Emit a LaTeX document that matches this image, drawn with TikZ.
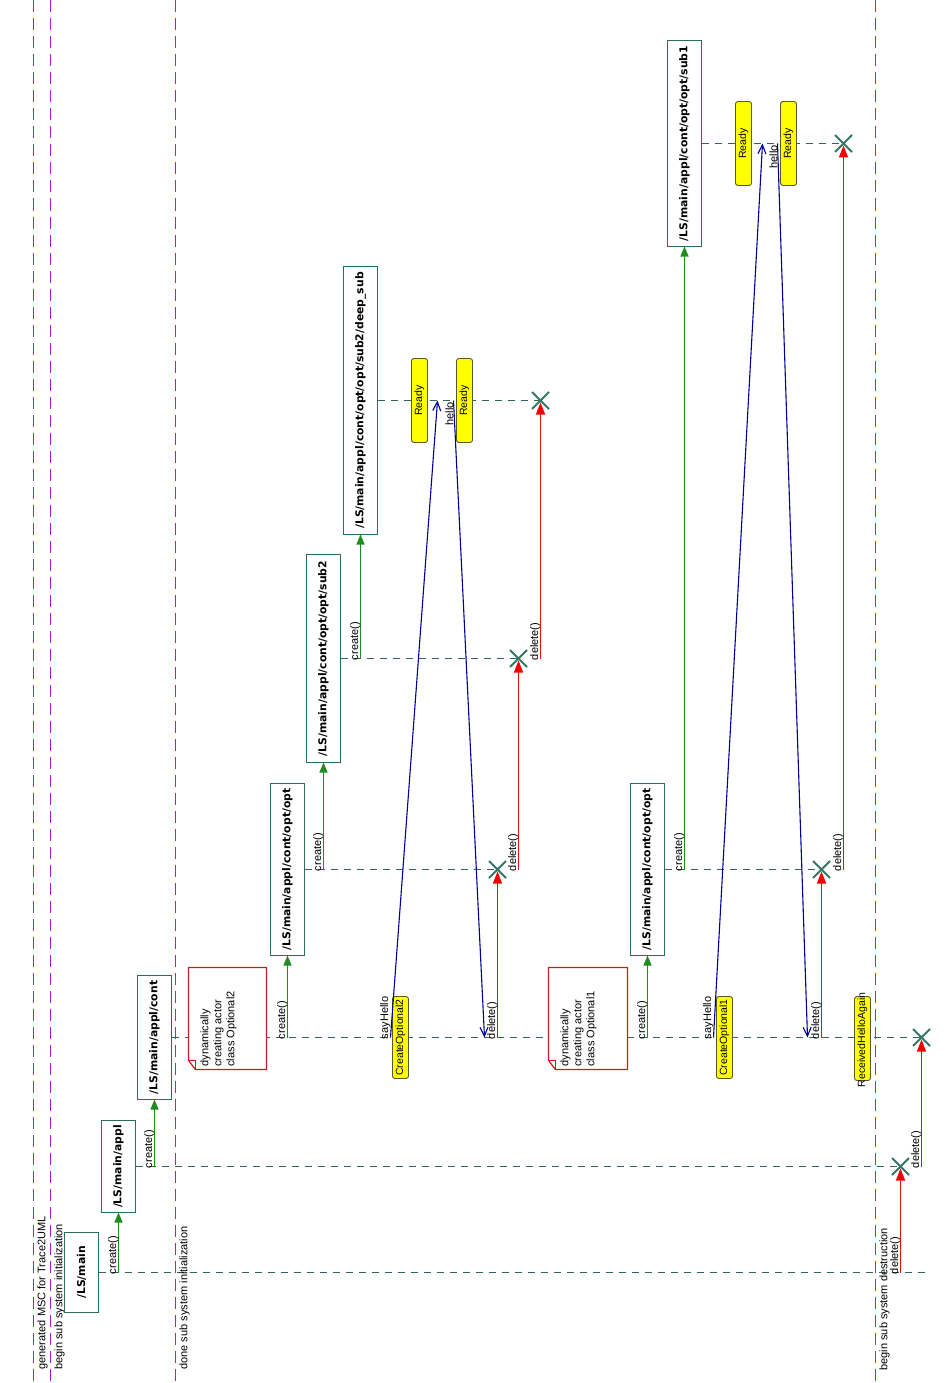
\documentclass[tikz,border=0pt]{standalone}
\usepackage{fontspec}
\setmainfont{Liberation Sans}
\newfontfamily\actorfont{DejaVu Sans}
\usetikzlibrary{arrows.meta,shapes.misc}
\definecolor{viol}{RGB}{160,32,220}
\definecolor{actc}{RGB}{40,110,90}
\definecolor{lifec}{RGB}{50,100,100}
\definecolor{xc}{RGB}{50,120,100}
\definecolor{grn}{RGB}{30,140,30}
\definecolor{redl}{RGB}{225,20,20}
\definecolor{redt}{RGB}{245,0,0}
\definecolor{blu}{RGB}{0,0,150}
\definecolor{notec}{RGB}{200,30,30}
\definecolor{yel}{RGB}{255,255,0}
\definecolor{stc}{RGB}{90,90,40}
\pgfdeclarelayer{paper}
\pgfdeclarelayer{bg}
\pgfsetlayers{paper,bg,main}
\begin{document}
\begin{tikzpicture}[x=1pt,y=-1pt,
 every node/.style={inner sep=0pt,outer sep=0pt},
 lab/.style={font=\fontsize{11}{13}\selectfont, rotate=90},
 actor/.style={draw=actc, line width=1.2pt, fill=white, rotate=90, minimum height=34pt, font=\actorfont\bfseries\fontsize{10.8}{13}\selectfont},
 state/.style={draw=stc, line width=0.9pt, fill=yel, rounded corners=2.5pt, rotate=90, minimum height=16pt, font=\fontsize{10.5}{13}\selectfont},
 xmark/.style={cross out, draw=xc, line width=1.9pt, minimum size=17pt},
 life/.style={draw=lifec, line width=1.2pt, dash pattern=on 7pt off 6pt},
 sysline/.style={draw=viol, line width=1.4pt, dash pattern=on 12pt off 6pt},
 createarrow/.style={draw=grn, line width=1.3pt, -{Triangle[length=10pt,width=8pt,color=grn]}},
 delarrow/.style={draw=redl, line width=1.3pt, shorten >=2pt, -{Triangle[length=12pt,width=9pt,color=redt]}},
 msgarrow/.style={draw=blu, line width=1.1pt, -{Straight Barb[length=9pt,width=8pt]}},
 notebox/.style={draw=notec, line width=1.2pt, fill=white},
 startlab/.style={lab, pos=0, anchor=south west, xshift=-1.5pt},
 endlab/.style={lab, pos=0, anchor=south east, xshift=-1.5pt},
]
\begin{pgfonlayer}{paper}
\fill[white] (0,0) rectangle (950,1383);
\end{pgfonlayer}
\useasboundingbox (0,0) rectangle (950,1383);
\begin{scope}[shift={(0.5,0.5)}]
% system lines
\draw[sysline] (33,0) -- (33,1383);
\draw[sysline] (50,0) -- (50,1383);
\draw[sysline] (175,0) -- (175,1383);
\draw[sysline] (875,0) -- (875,1383);
\node[lab, anchor=north west] (s1) at (37,1369) {generated MSC for Trace2UML};
\node[lab, anchor=north west] (s2) at (54,1369) {begin sub system initialization};
\node[lab, anchor=north west] (s3) at (179,1369) {done sub system initialization};
\node[lab, anchor=north west] (s4) at (879,1370) {begin sub system destruction};

% actors
\node[actor, minimum width=80pt] (main) at (81,1272) {/LS/main};
\node[actor, minimum width=92pt] (appl) at (118,1166) {/LS/main/appl};
\node[actor, minimum width=124pt] (cont) at (154,1037) {/LS/main/appl/cont};
\node[actor, minimum width=172pt] (opta) at (287,869) {/LS/main/appl/cont/opt/opt};
\node[actor, minimum width=208pt] (sub2) at (323,658) {/LS/main/appl/cont/opt/opt/sub2};
\node[actor, minimum width=268pt] (deep) at (360,400) {/LS/main/appl/cont/opt/opt/sub2/deep\_sub};
\node[actor, minimum width=172pt] (optb) at (647,869) {/LS/main/appl/cont/opt/opt};
\node[actor, minimum width=206pt] (sub1) at (684,143) {/LS/main/appl/cont/opt/opt/sub1};

% destruction marks
\node[xmark] (xappl) at (900,1166) {};
\node[xmark] (xcont) at (921,1037) {};
\node[xmark] (xopta) at (497,869) {};
\node[xmark] (xsub2) at (518,658) {};
\node[xmark] (xdeep) at (540,400) {};
\node[xmark] (xoptb) at (821,869) {};
\node[xmark] (xsub1) at (843,143) {};

\coordinate (mainend) at (930,1272);

\begin{pgfonlayer}{bg}
\draw[life] (main.south) -- (mainend);
\draw[life] (appl.south) -- (xappl.center);
\draw[life] (cont.south) -- (xcont.center);
\draw[life] (opta.south) -- (xopta.center);
\draw[life] (sub2.south) -- (xsub2.center);
\draw[life] (deep.south) -- (xdeep.center);
\draw[life] (optb.south) -- (xoptb.center);
\draw[life] (sub1.south) -- (xsub1.center);

\draw[delarrow] (xappl |- main.south) -- node[startlab] {delete()} (xappl.center);
\draw[delarrow] (xcont |- appl.south) -- node[startlab] {delete()} (xcont.center);
\draw[delarrow] (xopta |- cont.south) -- node[startlab] {delete()} (xopta.center);
\draw[delarrow] (xsub2 |- opta.south) -- node[startlab] {delete()} (xsub2.center);
\draw[delarrow] (xdeep |- sub2.south) -- node[startlab] {delete()} (xdeep.center);
\draw[delarrow] (xoptb |- cont.south) -- node[startlab] {delete()} (xoptb.center);
\draw[delarrow] (xsub1 |- optb.south) -- node[startlab] {delete()} (xsub1.center);
\end{pgfonlayer}

% creations
\draw[createarrow] (appl.west |- main.south) -- node[startlab] {create()} (appl.west);
\draw[createarrow] (cont.west |- appl.south) -- node[startlab] {create()} (cont.west);
\draw[createarrow] (opta.west |- cont.south) -- node[startlab] {create()} (opta.west);
\draw[createarrow] (sub2.west |- opta.south) -- node[startlab] {create()} (sub2.west);
\draw[createarrow] (deep.west |- sub2.south) -- node[startlab] {create()} (deep.west);
\draw[createarrow] (optb.west |- cont.south) -- node[startlab] {create()} (optb.west);
\draw[createarrow] (sub1.west |- optb.south) -- node[startlab] {create()} (sub1.west);

% states
\node[state, minimum width=84pt] (r2a) at (419,400) {Ready};
\node[state, minimum width=84pt] (r2b) at (464,400) {Ready};
\node[state, minimum width=84pt] (r1a) at (743,143) {Ready};
\node[state, minimum width=84pt] (r1b) at (788,143) {Ready};
\node[state, minimum width=82pt] (co2) at (400,1037) {CreateOptional2};
\node[state, minimum width=82pt] (co1) at (724,1037) {CreateOptional1};
\node[state, minimum width=84pt] (rha) at (862,1038) {};
\node[lab, font=\fontsize{10.5}{13}\selectfont] (rhat) at (862,1039.5) {ReceivedHelloAgain};

% messages
\coordinate (sh2s) at (390,1037);
\coordinate (sh2e) at (437,400);
\coordinate (h2s) at (453,400);
\coordinate (h2e) at (484,1037);
\coordinate (sh1s) at (713,1037);
\coordinate (sh1e) at (762,143);
\coordinate (h1s) at (777,143);
\coordinate (h1e) at (807,1037);
\draw[msgarrow] (sh2s) -- node[startlab] {sayHello} (sh2e);
\draw[msgarrow] (h2s) -- node[endlab] {hello} (h2e);
\draw[msgarrow] (sh1s) -- node[startlab] {sayHello} (sh1e);
\draw[msgarrow] (h1s) -- node[endlab] {hello} (h1e);

% notes
\draw[notebox] (188,967) -- (266,967) -- (266,1069) -- (195,1069) -- (188,1060) -- cycle;
\draw[draw=notec, line width=0.9pt] (188,1060) -- (195,1060) -- (195,1069);
\node[lab, align=left, anchor=north west] (n2) at (200,1066) {dynamically\\creating actor\\class Optional2};
\draw[notebox] (548,967) -- (627,967) -- (627,1069) -- (555,1069) -- (548,1060) -- cycle;
\draw[draw=notec, line width=0.9pt] (548,1060) -- (555,1060) -- (555,1069);
\node[lab, align=left, anchor=north west] (n1) at (560,1066) {dynamically\\creating actor\\class Optional1};
\end{scope}
\end{tikzpicture}
\end{document}
